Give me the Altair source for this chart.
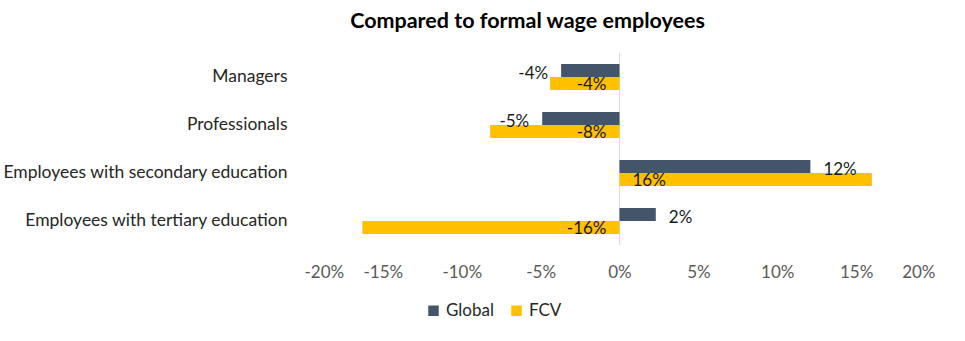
import altair as alt
import pandas as pd

categories = ["Managers", "Professionals", "Employees with secondary education", "Employees with tertiary education"]
series = ["Global", "FCV"]
global_vals = [-3.7, -4.9, 12.1, 2.3]   # percent
fcv_vals = [-4.4, -8.2, 16.0, -16.3]    # percent
x_ticks = [-20, -15, -10, -5, 0, 5, 10, 15, 20]

rows = []
for c, g, f in zip(categories, global_vals, fcv_vals):
    rows.append({"cat": c, "series": "Global", "v": g / 100})
    rows.append({"cat": c, "series": "FCV", "v": f / 100})
df = pd.DataFrame(rows)

FONT = "Lato"
colors = ["#44546A", "#FFC000"]
LBL = "replace(format(datum.v, '.0%'), '\u2212', '-')"

y = alt.Y("cat:N", sort=categories, title=None,
          scale=alt.Scale(paddingInner=0.46, paddingOuter=0.23),
          axis=alt.Axis(domain=False, ticks=False, labelFontSize=17.5, labelColor="#262626",
                        labelFont=FONT, labelPadding=17, labelLimit=400))
yoff = alt.YOffset("series:N", sort=series)
xscale = alt.Scale(domain=[-0.2, 0.2], nice=False)

base = alt.Chart(df).transform_calculate(lbl=LBL)

bars = alt.Chart(df).mark_bar().encode(
    x=alt.X("v:Q", scale=xscale, title=None,
            axis=alt.Axis(values=[t / 100 for t in x_ticks], format=".0%", grid=False, domain=False,
                          ticks=False, labelFontSize=17, labelColor="#595959", labelFont=FONT,
                          labelPadding=19, labelExpr="replace(datum.label, '\u2212', '-')")),
    y=y,
    yOffset=yoff,
    color=alt.Color("series:N", sort=series, scale=alt.Scale(domain=series, range=colors),
                    legend=alt.Legend(title=None, orient="none", legendX=121, legendY=249,
                                      direction="horizontal", symbolType="square", symbolSize=110,
                                      symbolStrokeWidth=0, labelFontSize=17, labelFont=FONT,
                                      labelColor="#262626", columnPadding=14, labelOffset=4)),
)

zero = alt.Chart(pd.DataFrame({"z": [0]})).mark_rule(color="#D9D9D9", strokeWidth=1).encode(
    x=alt.X("z:Q", scale=xscale))

txt_g = dict(fontSize=17, font=FONT, color="#1a1a1a", baseline="middle", dy=3)
txt_f = dict(fontSize=17, font=FONT, color="#1a1a1a", baseline="middle", dy=2)

g_neg = base.transform_filter("datum.series == 'Global' && datum.v < 0").mark_text(
    align="right", dx=-13, **txt_g).encode(
    x=alt.X("v:Q", scale=xscale), y=y, yOffset=yoff, text="lbl:N")
g_pos = base.transform_filter("datum.series == 'Global' && datum.v >= 0").mark_text(
    align="left", dx=13, **txt_g).encode(
    x=alt.X("v:Q", scale=xscale), y=y, yOffset=yoff, text="lbl:N")
f_neg = base.transform_filter("datum.series == 'FCV' && datum.v < 0").transform_calculate(
    b="0").mark_text(align="right", dx=-13, **txt_f).encode(
    x=alt.X("b:Q", scale=xscale), y=y, yOffset=yoff, text="lbl:N")
f_pos = base.transform_filter("datum.series == 'FCV' && datum.v >= 0").transform_calculate(
    b="0").mark_text(align="left", dx=13, **txt_f).encode(
    x=alt.X("b:Q", scale=xscale), y=y, yOffset=yoff, text="lbl:N")

chart = alt.layer(zero, bars, g_neg, g_pos, f_neg, f_pos).properties(
    width=631, height=192,
    background="white",
    title=alt.TitleParams("Compared to formal wage employees", fontSize=21.5, font=FONT,
                          fontWeight="bold", color="#000000", anchor="middle", dx=-92, offset=20),
    autosize=alt.AutoSizeParams(type="none"),
    padding={"left": 304, "top": 53, "right": 30, "bottom": 96},
).configure_view(strokeWidth=0, stroke="transparent")

chart.save("out.html", embed_options={"renderer": "svg", "actions": False})
